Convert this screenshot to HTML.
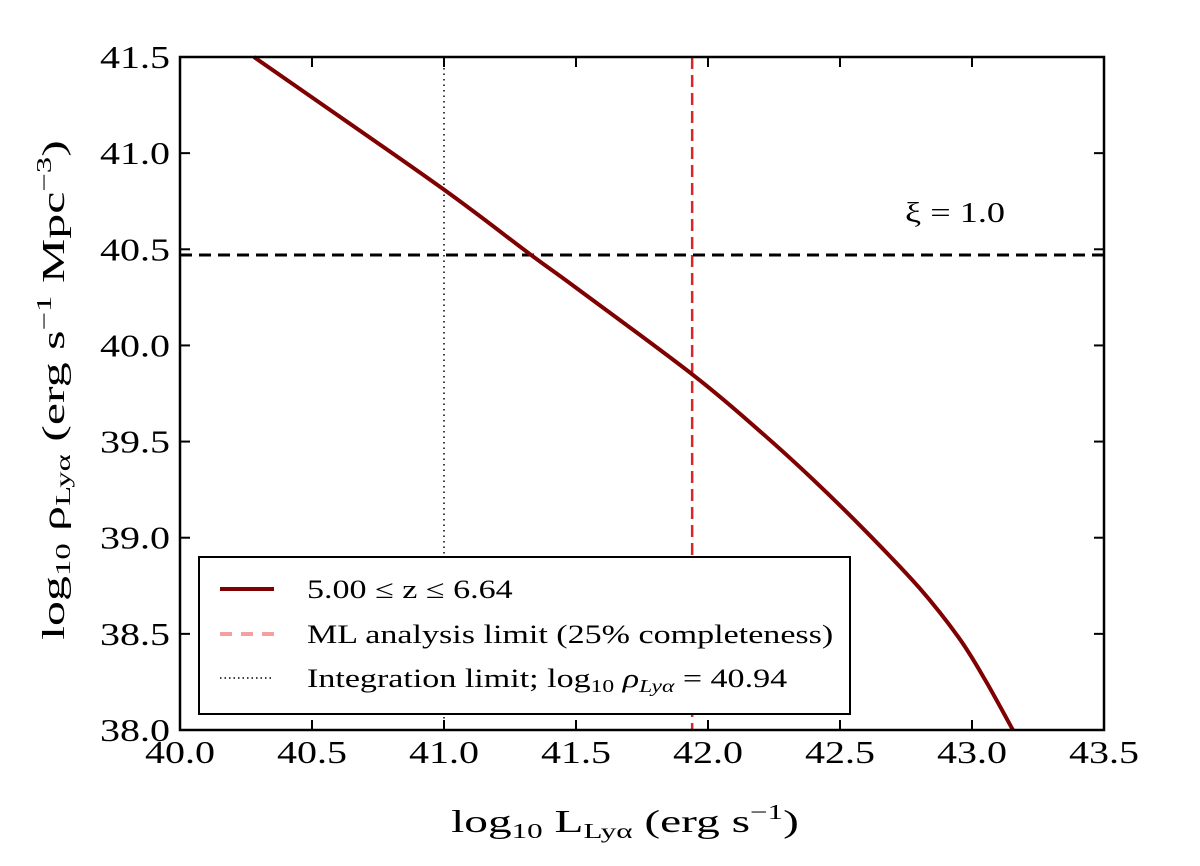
<!DOCTYPE html>
<html><head><meta charset="utf-8"><style>
body{margin:0;background:#fff}
svg text{font-family:"Liberation Serif",serif;fill:#000}
</style></head><body>
<svg width="1200" height="861" xmlns="http://www.w3.org/2000/svg">
<g id="g"></g>
<g transform="translate(625,832) scale(1.48,1)">
<text x="0" y="0" font-size="32" text-anchor="middle">log<tspan font-size="21" dy="6">10</tspan><tspan dy="-6"> L</tspan><tspan font-size="21" dy="6">Lyα</tspan><tspan dy="-6"> (erg s</tspan><tspan font-size="21" dy="-13">−1</tspan><tspan dy="13">)</tspan></text>
</g>
<g transform="translate(64,390) rotate(-90) scale(1.56,1)">
<text x="0" y="0" font-size="32" text-anchor="middle">log<tspan font-size="21" dy="6">10</tspan><tspan dy="-6"> ρ</tspan><tspan font-size="21" dy="6">Lyα</tspan><tspan dy="-6"> (erg s</tspan><tspan font-size="21" dy="-13">−1</tspan><tspan dy="13"> Mpc</tspan><tspan font-size="21" dy="-13">−3</tspan><tspan dy="13">)</tspan></text>
</g>
<g>
<rect x="199" y="557" width="651" height="157" fill="#fff" stroke="#000" stroke-width="2"/>
<line x1="220" x2="274" y1="589" y2="589" stroke="#7f0000" stroke-width="4"/>
<line x1="220" x2="274" y1="634" y2="634" stroke="#f4a0a0" stroke-width="4" stroke-dasharray="12 9"/>
<line x1="220" x2="274" y1="678" y2="678" stroke="#000" stroke-width="1.5" stroke-dasharray="1.5 3"/>
<g transform="translate(307,0) scale(1.31,1)">
<text x="0" y="598" font-size="26">5.00 ≤ z ≤ 6.64</text>
<text x="0" y="643" font-size="26">ML analysis limit (25% completeness)</text>
<text x="0" y="687" font-size="26">Integration limit; log<tspan font-size="18" dy="5">10</tspan><tspan dy="-5"> </tspan><tspan font-style="italic">ρ</tspan><tspan font-size="18" dy="5" font-style="italic">Lyα</tspan><tspan dy="-5"> = 40.94</tspan></text>
</g>
</g>
</svg>
<script>
const xTicks=[40.0,40.5,41.0,41.5,42.0,42.5,43.0,43.5];
const yTicks=[38.0,38.5,39.0,39.5,40.0,40.5,41.0,41.5];
const curveX=[40.28,40.5,41.0,41.33,41.5,41.94,42.2,42.4,42.6,42.8,42.95,43.05,43.155];
const curveY=[41.5,41.29,40.81,40.47,40.3,39.85,39.55,39.30,39.03,38.74,38.48,38.26,38.0];
const mlLimit=41.94, intLimit=41.0, xiLevel=40.47;
const L=180,R=1104,T=57,B=730;
const sx=v=>L+(v-40)/3.5*(R-L), sy=v=>B-(v-38)/3.5*(B-T);
const g=document.getElementById('g'),NS='http://www.w3.org/2000/svg';
function el(t,a,txt){const e=document.createElementNS(NS,t);for(const k in a)e.setAttribute(k,a[k]);if(txt!==undefined)e.textContent=txt;g.appendChild(e);return e;}
let e;
e=el('line',{x1:sx(intLimit),x2:sx(intLimit),y1:T,y2:B,stroke:'#000','stroke-width':1.5,'stroke-dasharray':'1.5 4'});


e=el('line',{x1:sx(mlLimit),x2:sx(mlLimit),y1:T,y2:B,stroke:'#d62728','stroke-width':2.5,'stroke-dasharray':'12 6'});


e=el('line',{x1:L,x2:R,y1:sy(xiLevel),y2:sy(xiLevel),stroke:'#000','stroke-width':3,'stroke-dasharray':'12 7'});


e=el('text',{x:905,y:222,'font-size':28,textLength:100,lengthAdjust:'spacingAndGlyphs'},'ξ = 1.0');


const P=curveX.map((x,i)=>[sx(x),sy(curveY[i])]);
let d='M'+P[0];
for(let i=0;i<P.length-1;i++){
 const p0=P[Math.max(i-1,0)],p1=P[i],p2=P[i+1],p3=P[Math.min(i+2,P.length-1)];
 const c1=[p1[0]+(p2[0]-p0[0])/6,p1[1]+(p2[1]-p0[1])/6],c2=[p2[0]-(p3[0]-p1[0])/6,p2[1]-(p3[1]-p1[1])/6];
 d+=' C'+c1+' '+c2+' '+p2;
}
e=el('path',{d:d,fill:'none',stroke:'#7f0000','stroke-width':4});


e=el('rect',{x:L,y:T,width:R-L,height:B-T,fill:'none',stroke:'#000','stroke-width':2.5});


xTicks.forEach(v=>{
 el('line',{x1:sx(v),x2:sx(v),y1:B,y2:B-10,stroke:'#000','stroke-width':2});
 el('line',{x1:sx(v),x2:sx(v),y1:T,y2:T+10,stroke:'#000','stroke-width':2});
 e=el('text',{x:sx(v)-35,y:B+33,'font-size':32,textLength:70,lengthAdjust:'spacingAndGlyphs'},v.toFixed(1));
 
 
});
yTicks.forEach(v=>{
 el('line',{x1:L,x2:L+10,y1:sy(v),y2:sy(v),stroke:'#000','stroke-width':2});
 el('line',{x1:R,x2:R-10,y1:sy(v),y2:sy(v),stroke:'#000','stroke-width':2});
 e=el('text',{x:L-80,y:sy(v)+11,'font-size':32,textLength:70,lengthAdjust:'spacingAndGlyphs'},v.toFixed(1));
 
 
});
</script>
</body></html>
